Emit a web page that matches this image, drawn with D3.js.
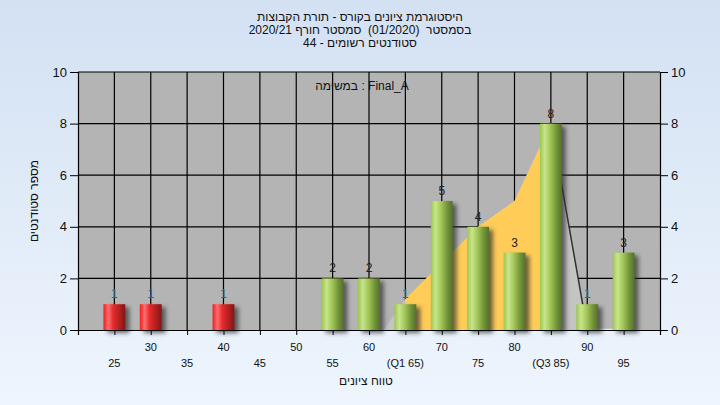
<!DOCTYPE html>
<html><head><meta charset="utf-8">
<script src="https://cdn.jsdelivr.net/npm/d3@7"></script>
<style>
html,body{margin:0;padding:0;}
body{width:720px;height:405px;overflow:hidden;}
text{font-family:"Liberation Sans",Arial,"DejaVu Sans",sans-serif;white-space:pre;}
</style></head>
<body>
<svg id="c" width="720" height="405"></svg>
<script>
// ---- data ----
const grades = [25,30,35,40,45,50,55,60,65,70,75,80,85,90,95];
const counts = [1,1,0,1,0,0,2,2,1,5,4,3,8,1,3];
const failLimit = 55;
const xLabelsRow1 = [[30,"30"],[40,"40"],[50,"50"],[60,"60"],[70,"70"],[80,"80"],[90,"90"]];
const xLabelsRow2 = [[25,"25"],[35,"35"],[45,"45"],[55,"55"],[65,"(Q1 65)"],[75,"75"],[85,"(Q3 85)"],[95,"95"]];
const yTicks = [0,2,4,6,8,10];
const distGrades = [62,65,70,75,80,85,90];
const distValues = [0,1.2,2.6,4,5,8,0];
const q1 = 65, q3 = 85;
const titleLines = ["היסטוגרמת ציונים בקורס - תורת הקבוצות","בסמסטר  (01/2020)  סמסטר חורף 2020/21","סטודנטים רשומים - 44"];
const taskLabel = "במשימה : Final_A";
const xTitle = "טווח ציונים";
const yTitle = "מספר סטודנטים";

const svg = d3.select("#c");
const defs = svg.append("defs");
const bg = defs.append("linearGradient").attr("id","bg").attr("x1",0).attr("y1",0).attr("x2",0).attr("y2",1);
bg.append("stop").attr("offset","0%").attr("stop-color","#d3e1f3");
bg.append("stop").attr("offset","100%").attr("stop-color","#eef5fd");
function barGrad(id, stops){
  const g = defs.append("linearGradient").attr("id",id).attr("x1",0).attr("y1",0).attr("x2",1).attr("y2",0);
  stops.forEach(s=>g.append("stop").attr("offset",s[0]).attr("stop-color",s[1]));
}
barGrad("gGreen",[["0%","#9cc84a"],["22%","#c8e48e"],["45%","#a6ca5a"],["78%","#6f9038"],["100%","#55712a"]]);
barGrad("gRed",[["0%","#f01c1c"],["22%","#ff6e6e"],["45%","#e62a2a"],["78%","#aa1e1e"],["100%","#7e1616"]]);
const f = defs.append("filter").attr("id","blur").attr("x","-50%").attr("y","-50%").attr("width","200%").attr("height","200%");
f.append("feGaussianBlur").attr("stdDeviation",2);

svg.append("rect").attr("width",720).attr("height",405).attr("fill","url(#bg)");

const L=78,R=660,T=72,B=330;
const x = d3.scaleLinear().domain([20,100]).range([L,R]);
const y = d3.scaleLinear().domain([0,10]).range([B,T]);
const step = x(25)-x(20);
const bw = step*0.6;

svg.append("rect").attr("x",L).attr("y",T).attr("width",R-L).attr("height",B-T).attr("fill","#b4b4b4");

// gridlines
svg.append("g").selectAll("line.h").data(yTicks.filter(d=>d>0)).join("line")
  .attr("x1",L).attr("x2",R).attr("y1",d=>y(d)).attr("y2",d=>y(d)).attr("stroke","#000").attr("stroke-width",1.2);
svg.append("g").selectAll("line.v").data(grades).join("line")
  .attr("x1",d=>x(d)).attr("x2",d=>x(d)).attr("y1",T).attr("y2",B).attr("stroke","#000").attr("stroke-width",1.2);

// distribution area
const dist = distGrades.map((g,i)=>({g,v:distValues[i]}));
const area = d3.area().x(d=>x(d.g)).y0(y(0)).y1(d=>y(d.v));
svg.append("path").datum(dist).attr("d",area).attr("fill","#c4c4c4");
svg.append("path").datum(dist.filter(d=>d.g>=q1&&d.g<=q3)).attr("d",area).attr("fill","#ffcc58");
svg.append("path").datum(dist.filter(d=>d.g>=q3)).attr("d",d3.line().x(d=>x(d.g)).y(d=>y(d.v)))
  .attr("fill","none").attr("stroke","#333").attr("stroke-width",1.5);
svg.append("line").attr("x1",x(90)).attr("x2",x(95)).attr("y1",y(0)-0.5).attr("y2",y(0)-0.5).attr("stroke","#e8e8e8").attr("stroke-width",1.5);

// bars
const data = grades.map((g,i)=>({g,v:counts[i]})).filter(d=>d.v>0);
svg.append("g").selectAll("rect").data(data).join("rect")
  .attr("x",d=>x(d.g)-bw/2+4).attr("y",d=>y(d.v)+3).attr("width",bw).attr("height",d=>y(0)-y(d.v))
  .attr("fill","#303030").attr("opacity",0.7).attr("filter","url(#blur)");
svg.append("g").selectAll("rect").data(data).join("rect")
  .attr("x",d=>x(d.g)-bw/2).attr("y",d=>y(d.v)).attr("width",bw).attr("height",d=>y(0)-y(d.v))
  .attr("fill",d=>d.g<failLimit?"url(#gRed)":"url(#gGreen)");
svg.append("g").selectAll("text").data(data).join("text")
  .attr("x",d=>x(d.g)).attr("y",d=>y(d.v)-6).attr("text-anchor","middle")
  .attr("font-size",12).attr("fill",d=>d.v===1?"#2d6688":"#222").text(d=>d.v);

// axes
const gx = svg.append("g").attr("transform",`translate(0,${B})`)
  .call(d3.axisBottom(x).tickValues(d3.range(20,101,5)).tickSize(5).tickFormat(""));
gx.select(".domain").attr("stroke","#000").attr("stroke-width",1.2);
gx.selectAll(".tick line").attr("stroke","#000");
const gl = svg.append("g").attr("transform",`translate(${L},0)`)
  .call(d3.axisLeft(y).tickValues(yTicks).tickSize(8).tickPadding(3));
const gr = svg.append("g").attr("transform",`translate(${R},0)`)
  .call(d3.axisRight(y).tickValues(yTicks).tickSize(8).tickPadding(3));
[gl,gr].forEach(g=>{
  g.select(".domain").attr("stroke","#000").attr("stroke-width",1.2);
  g.selectAll(".tick line").attr("stroke","#000");
  g.selectAll(".tick text").attr("font-size",13).attr("fill","#111")
   .attr("font-family",'"Liberation Sans",Arial,sans-serif');
});

svg.append("g").selectAll("text").data(xLabelsRow1).join("text")
  .attr("x",d=>x(d[0])).attr("y",351).attr("text-anchor","middle").attr("font-size",11).attr("fill","#111").text(d=>d[1]);
svg.append("g").selectAll("text").data(xLabelsRow2).join("text")
  .attr("x",d=>x(d[0])).attr("y",367).attr("text-anchor","middle").attr("font-size",11).attr("fill","#111")
  .attr("direction","ltr").text(d=>d[1]);

// titles
svg.append("g").selectAll("text").data(titleLines).join("text")
  .attr("x",360).attr("y",(d,i)=>21+i*13).attr("text-anchor","middle").attr("font-size",12)
  .attr("direction","rtl").attr("unicode-bidi","embed").attr("fill","#111").text(d=>d);
svg.append("text").attr("x",362).attr("y",90).attr("text-anchor","middle").attr("font-size",12).attr("fill","#111")
  .attr("direction","ltr").text(taskLabel);
svg.append("text").attr("x",366).attr("y",385).attr("text-anchor","middle").attr("font-size",12).attr("fill","#111")
  .attr("direction","rtl").text(xTitle);
svg.append("text").attr("transform","translate(38,201) rotate(-90)").attr("text-anchor","middle").attr("font-size",12)
  .attr("fill","#111").attr("direction","rtl").text(yTitle);
</script>
</body></html>
